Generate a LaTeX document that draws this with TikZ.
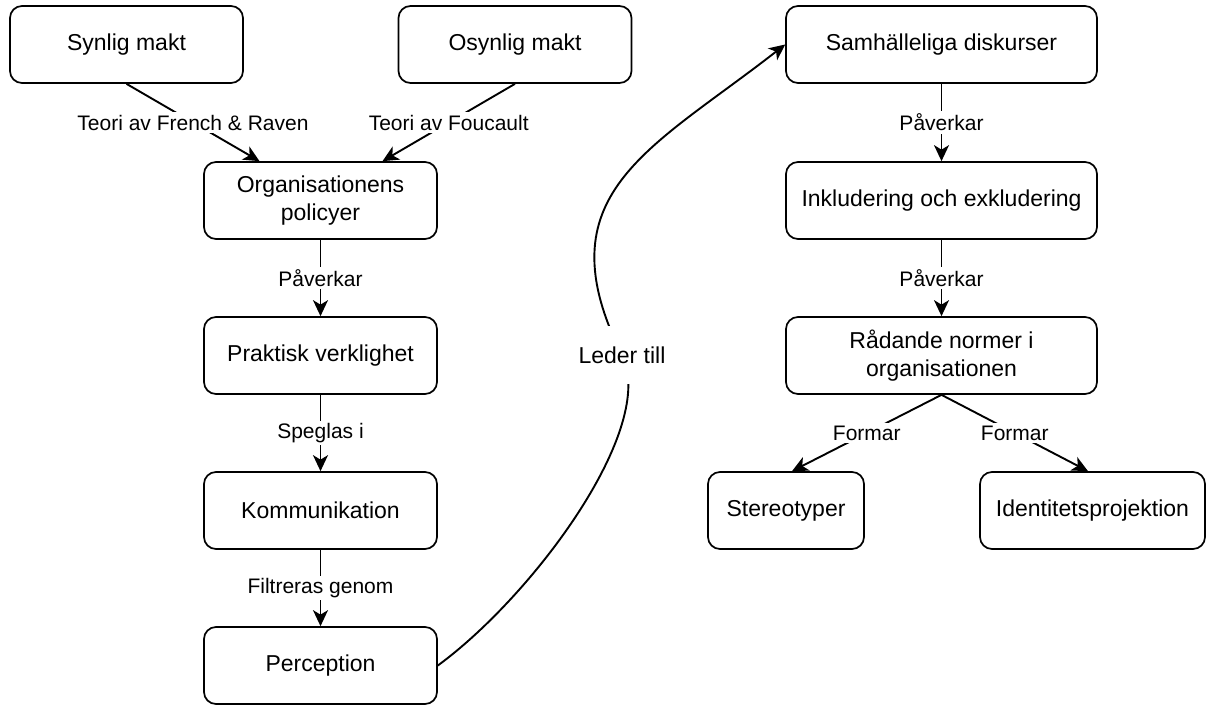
\documentclass[tikz,border=0pt]{standalone}
\usepackage{fontspec}
\setmainfont{Liberation Sans}
\usetikzlibrary{arrows.meta,calc}
\tikzset{
  box/.style={draw, line width=1.7pt, rounded corners=12pt, minimum width=233pt, minimum height=77pt,
    inner sep=0pt, align=center, font=\fontsize{23}{28}\selectfont},
  widebox/.style={box, minimum width=311pt},
  lbl/.style={fill=white, inner xsep=1pt, inner ysep=2.5pt, font=\fontsize{21}{25}\selectfont},
  edge/.style={draw, line width=1.9pt, -{Stealth[length=16pt,width=15pt,inset=4.5pt]}}
}
\begin{document}
\begin{tikzpicture}[x=1pt,y=-1pt]
\fill[white] (0,0) rectangle (1206,704);
\useasboundingbox (0,0) rectangle (1206,704);
% left part
\node[box] (syn) at (126.5,44.5) {Synlig makt};
\node[box] (osyn) at (515,44.5) {Osynlig makt};
\node[box] (org) at (320.5,200.5) {Organisationens\\policyer};
\node[box] (prak) at (320.5,355.5) {Praktisk verklighet};
\node[box] (komm) at (320.5,510.5) {Kommunikation};
\node[box] (perc) at (320.5,665.5) {Perception};
% right part
\node[widebox] (sam) at (941.5,44.5) {Samhälleliga diskurser};
\node[widebox] (ink) at (941.5,200.5) {Inkludering och exkludering};
\node[widebox] (rad) at (941.5,355.5) {Rådande normer i\\organisationen};
\node[box, minimum width=156pt] (ster) at (786,510.5) {Stereotyper};
\node[box, minimum width=225pt] (iden) at (1092.5,510.5) {Identitetsprojektion};
% edges
\draw[edge] (syn.south) -- node[lbl] {Teori av French \& Raven} ($(org.north)+(-61,0)$);
\draw[edge] (osyn.south) -- node[lbl] {Teori av Foucault} ($(org.north)+(62,0)$);
\draw[edge] (org) -- node[lbl] {Påverkar} (prak);
\draw[edge] (prak) -- node[lbl] {Speglas i} (komm);
\draw[edge] (komm) -- node[lbl] {Filtreras genom} (perc);
\draw[edge] (sam) -- node[lbl] {Påverkar} (ink);
\draw[edge] (ink) -- node[lbl] {Påverkar} (rad);
\draw[edge] (rad.south) -- node[lbl] {Formar} ($(ster.north)+(6,0)$);
\draw[edge] (rad.south) -- node[lbl] {Formar} ($(iden.north)+(-4.5,0)$);
\coordinate (m) at (622,355);
\draw[edge] (perc.east) .. controls (534,595) and (658,427) .. (m)
  .. controls (541.5,194) and (650,150) .. (sam.west);
\node[lbl, minimum height=58pt, font=\fontsize{23}{28}\selectfont] (lt) at (m) {Leder till};
\end{tikzpicture}
\end{document}
